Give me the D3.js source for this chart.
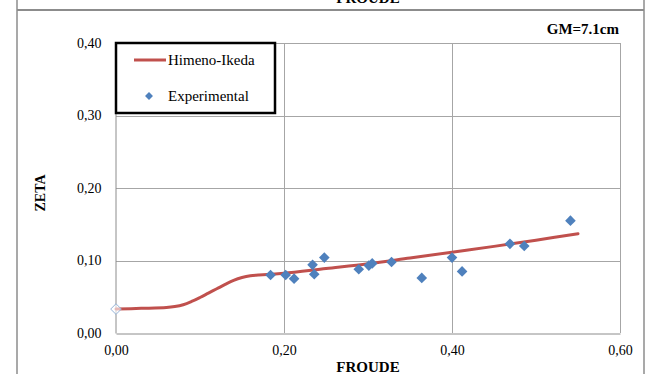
<!DOCTYPE html>
<html>
<head>
<meta charset="utf-8">
<script src="https://cdn.jsdelivr.net/npm/d3@7"></script>
<style>
  html, body { margin: 0; padding: 0; background: #fff; }
  svg { display: block; }
  text { font-family: "Liberation Serif", "Times New Roman", "DejaVu Serif", serif; fill: #000; }
</style>
</head>
<body>
<svg id="chart" width="648" height="374"></svg>
<script>
// Himeno-Ikeda roll damping prediction (Froude number vs. ZETA)
const modelFroude = [0.00, 0.03, 0.06, 0.07, 0.08, 0.09, 0.10, 0.11, 0.12, 0.13, 0.14, 0.15, 0.16, 0.17, 0.18, 0.20, 0.25, 0.30, 0.35, 0.40, 0.45, 0.50, 0.55];
const modelZeta   = [0.033, 0.034, 0.0352, 0.0365, 0.039, 0.0435, 0.049, 0.055, 0.061, 0.067, 0.0725, 0.0765, 0.079, 0.0801, 0.0806, 0.0825, 0.089, 0.0955, 0.1035, 0.1115, 0.1195, 0.128, 0.137];

// Measured damping
const expFroude = [0.184, 0.202, 0.212, 0.234, 0.236, 0.248, 0.289, 0.301, 0.305, 0.328, 0.364, 0.400, 0.412, 0.469, 0.486, 0.541];
const expZeta   = [0.080, 0.080, 0.075, 0.094, 0.081, 0.104, 0.088, 0.093, 0.096, 0.098, 0.076, 0.104, 0.085, 0.123, 0.120, 0.155];

// Zero-speed reference point (open marker)
const zeroFroude = [0.0];
const zeroZeta   = [0.033];

const xTicks = [0, 0.2, 0.4, 0.6];
const yTicks = [0, 0.1, 0.2, 0.3, 0.4];
const seriesNames = ["Himeno-Ikeda", "Experimental"];
const xTitle = "FROUDE";
const yTitle = "ZETA";
const note = "GM=7.1cm";

const fmt = v => d3.format(".2f")(v).replace(".", ",");
const serif = '"Liberation Serif", "Times New Roman", "DejaVu Serif", serif';

const svg = d3.select("#chart");
const plot = { left: 116, right: 620, top: 43, bottom: 333 };

const x = d3.scaleLinear().domain([0, 0.6]).range([plot.left, plot.right]);
const y = d3.scaleLinear().domain([0, 0.4]).range([plot.bottom, plot.top]);

// Outer frame (bottom edge of the chart above, then this chart's frame)
const frameColor = "#8c8c8c";
svg.append("text")
  .attr("x", 368).attr("y", 3)
  .attr("text-anchor", "middle")
  .style("font-size", "15px").style("font-weight", "bold")
  .text(xTitle);
svg.append("line").attr("x1", 17).attr("x2", 17).attr("y1", 0).attr("y2", 374)
  .attr("stroke", frameColor).attr("stroke-width", 1.5);
svg.append("line").attr("x1", 644).attr("x2", 644).attr("y1", 0).attr("y2", 374)
  .attr("stroke", frameColor).attr("stroke-width", 1.5);
svg.append("line").attr("x1", 17).attr("x2", 644).attr("y1", 10).attr("y2", 10)
  .attr("stroke", frameColor).attr("stroke-width", 2);

// Gridlines
const grid = svg.append("g");
grid.selectAll("line.h").data(yTicks.slice(1)).join("line")
  .attr("class", "h")
  .attr("x1", plot.left).attr("x2", plot.right)
  .attr("y1", d => Math.round(y(d)) + 0.5).attr("y2", d => Math.round(y(d)) + 0.5)
  .attr("stroke", "#a6a6a6").attr("stroke-width", 1);
grid.selectAll("line.v").data(xTicks.slice(1)).join("line")
  .attr("class", "v")
  .attr("y1", plot.top).attr("y2", plot.bottom)
  .attr("x1", d => Math.round(x(d)) + 0.5).attr("x2", d => Math.round(x(d)) + 0.5)
  .attr("stroke", "#a6a6a6").attr("stroke-width", 1);

// Axes
const xAxis = d3.axisBottom(x).tickValues(xTicks).tickFormat(fmt).tickSize(0).tickPadding(12);
const yAxis = d3.axisLeft(y).tickValues(yTicks).tickFormat(fmt).tickSize(0).tickPadding(14);

const gx = svg.append("g").attr("transform", `translate(0,${plot.bottom + 0.5})`).call(xAxis);
const gy = svg.append("g").attr("transform", `translate(${plot.left - 0.5},0)`).call(yAxis);
[gx, gy].forEach(g => {
  g.attr("font-family", serif).attr("font-size", 14);
  g.select(".domain").attr("stroke", "#8c8c8c").attr("stroke-width", 1);
  g.selectAll("text").style("font-size", "14px").style("font-family", serif);
});

// Axis titles and note
svg.append("text")
  .attr("x", 368).attr("y", 372)
  .attr("text-anchor", "middle")
  .style("font-size", "15px").style("font-weight", "bold")
  .text(xTitle);
svg.append("text")
  .attr("transform", `translate(45,${193}) rotate(-90)`)
  .attr("text-anchor", "middle")
  .style("font-size", "14px").style("font-weight", "bold")
  .text(yTitle);
svg.append("text")
  .attr("x", 619).attr("y", 34)
  .attr("text-anchor", "end")
  .style("font-size", "15px").style("font-weight", "bold")
  .text(note);

// Model curve
const modelData = modelFroude.map((f, i) => [f, modelZeta[i]]);
const line = d3.line().x(d => x(d[0])).y(d => y(d[1])).curve(d3.curveCatmullRom.alpha(0.5));
svg.append("path")
  .datum(modelData)
  .attr("d", line)
  .attr("fill", "none")
  .attr("stroke", "#c0504d")
  .attr("stroke-width", 3)
  .attr("stroke-linecap", "round")
  .attr("stroke-linejoin", "round");

// Markers
const diamond = d3.symbol().type(d3.symbolDiamond2).size(72);
svg.append("g").selectAll("path")
  .data(zeroFroude.map((f, i) => [f, zeroZeta[i]]))
  .join("path")
  .attr("d", diamond)
  .attr("transform", d => `translate(${x(d[0])},${y(d[1])})`)
  .attr("fill", "#fff").attr("fill-opacity", 0.6)
  .attr("stroke", "#95b3d7").attr("stroke-width", 1);

svg.append("g").selectAll("path")
  .data(expFroude.map((f, i) => [f, expZeta[i]]))
  .join("path")
  .attr("d", diamond)
  .attr("transform", d => `translate(${x(d[0])},${y(d[1])})`)
  .attr("fill", "#4f81bd");

// Legend
const lg = svg.append("g");
lg.append("rect")
  .attr("x", 116).attr("y", 43).attr("width", 159).attr("height", 70)
  .attr("fill", "#fff").attr("stroke", "#000").attr("stroke-width", 2.5);
lg.append("line")
  .attr("x1", 134).attr("x2", 166).attr("y1", 60).attr("y2", 60)
  .attr("stroke", "#c0504d").attr("stroke-width", 3);
lg.append("text").attr("x", 168).attr("y", 65).style("font-size", "15px").text(seriesNames[0]);
lg.append("path")
  .attr("d", d3.symbol().type(d3.symbolDiamond2).size(40))
  .attr("transform", "translate(149,96)")
  .attr("fill", "#4f81bd");
lg.append("text").attr("x", 168).attr("y", 101).style("font-size", "15px").text(seriesNames[1]);
</script>
</body>
</html>
